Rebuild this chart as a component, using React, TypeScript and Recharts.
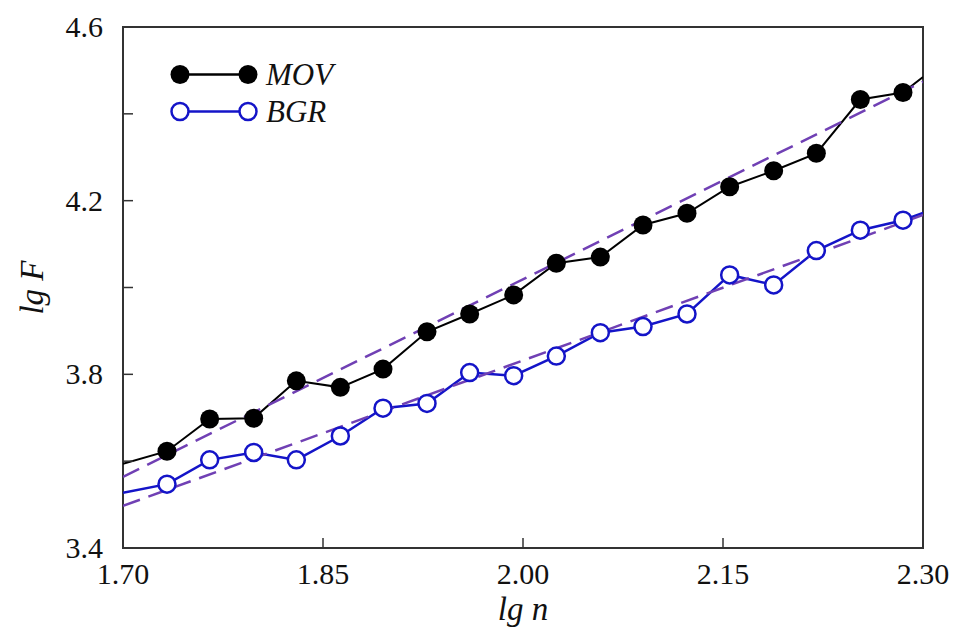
import React from "react";
import { LineChart, Line, XAxis, YAxis, ReferenceArea, Legend } from "recharts";

// lg n positions of the measured points
const lgN = [
  1.733, 1.765, 1.798, 1.83, 1.863, 1.895, 1.928, 1.96, 1.993, 2.025, 2.058, 2.09, 2.123, 2.155,
  2.188, 2.22, 2.253, 2.285,
];
const movF = [
  3.623, 3.697, 3.699, 3.785, 3.77, 3.812, 3.898, 3.939, 3.983, 4.056, 4.07, 4.144, 4.171, 4.232,
  4.269, 4.309, 4.433, 4.449,
];
const bgrF = [
  3.547, 3.603, 3.62, 3.603, 3.658, 3.722, 3.733, 3.804, 3.797, 3.842, 3.896, 3.91, 3.939, 4.029,
  4.006, 4.085, 4.132, 4.155,
];

// where the polylines leave the frame
const edgeN = [1.7, 2.3];
const movEdge = [3.594, 4.485];
const bgrEdge = [3.527, 4.172];

// linear fits (dashed)
const movFit = [3.564, 4.474];
const bgrFit = [3.497, 4.167];

const xTicks = [1.7, 1.85, 2.0, 2.15, 2.3];
const yTicks = [3.4, 3.6, 3.8, 4.0, 4.2, 4.4, 4.6];
const yLabels = [3.4, 3.8, 4.2, 4.6];

const FONT = '"Liberation Serif", "DejaVu Serif", serif';
const AXIS = "#333";
const MOV_COLOR = "#000000";
const BGR_COLOR = "#1414c8";
const FIT_COLOR = "#7040b4";

function buildSeries(values: number[], edge: number[]) {
  return [
    { x: edgeN[0], y: edge[0], edge: true },
    ...lgN.map((x, i) => ({ x, y: values[i], edge: false })),
    { x: edgeN[1], y: edge[1], edge: true },
  ];
}

const movData = buildSeries(movF, movEdge);
const bgrData = buildSeries(bgrF, bgrEdge);
const movFitData = edgeN.map((x, i) => ({ x, y: movFit[i] }));
const bgrFitData = edgeN.map((x, i) => ({ x, y: bgrFit[i] }));

function XTick(props: any) {
  const { x, y, payload } = props;
  return (
    <g>
      <line x1={x} y1={y} x2={x} y2={y - 10} stroke={AXIS} strokeWidth={1.5} />
      <text x={x} y={y + 36} textAnchor="middle" fontFamily={FONT} fontSize={30} fill="#111">
        {Number(payload.value).toFixed(2)}
      </text>
    </g>
  );
}

function YTick(props: any) {
  const { x, y, payload } = props;
  const v = Number(payload.value);
  const showLabel = yLabels.some((l) => Math.abs(l - v) < 1e-6);
  return (
    <g>
      <line x1={x} y1={y} x2={x + 10} y2={y} stroke={AXIS} strokeWidth={1.5} />
      {showLabel && (
        <text x={x - 20} y={y + 10} textAnchor="end" fontFamily={FONT} fontSize={30} fill="#111">
          {v.toFixed(1)}
        </text>
      )}
    </g>
  );
}

function XTitle(props: any) {
  const { viewBox } = props;
  return (
    <text
      x={viewBox.x + viewBox.width / 2}
      y={viewBox.y + 72}
      textAnchor="middle"
      fontFamily={FONT}
      fontStyle="italic"
      fontSize={33}
      fill="#111"
    >
      lg n
    </text>
  );
}

function YTitle(props: any) {
  const { viewBox } = props;
  const cx = viewBox.x + 43;
  const cy = viewBox.y + viewBox.height / 2;
  return (
    <text
      x={cx}
      y={cy}
      transform={`rotate(-90, ${cx}, ${cy})`}
      textAnchor="middle"
      fontFamily={FONT}
      fontStyle="italic"
      fontSize={33}
      fill="#111"
    >
      lg F
    </text>
  );
}

function FilledDot(props: any) {
  const { cx, cy, payload, index } = props;
  if (payload.edge) return <g key={`m-${index}`} />;
  return <circle key={`m-${index}`} cx={cx} cy={cy} r={9.5} fill={MOV_COLOR} />;
}

function OpenDot(props: any) {
  const { cx, cy, payload, index } = props;
  if (payload.edge) return <g key={`b-${index}`} />;
  return (
    <circle key={`b-${index}`} cx={cx} cy={cy} r={8.5} fill="#fff" stroke={BGR_COLOR} strokeWidth={2.5} />
  );
}

const legendItems = [
  { name: "MOV", color: MOV_COLOR, filled: true },
  { name: "BGR", color: BGR_COLOR, filled: false },
];

function LegendBox() {
  return (
    <div>
      {legendItems.map((item) => (
        <div key={item.name} style={{ display: "flex", alignItems: "center", height: 37 }}>
          <svg width={101} height={37}>
            <line x1={15} y1={18.5} x2={83} y2={18.5} stroke={item.color} strokeWidth={2.5} />
            {[15, 83].map((cx) => (
              <circle
                key={cx}
                cx={cx}
                cy={18.5}
                r={item.filled ? 9.5 : 8.5}
                fill={item.filled ? item.color : "#fff"}
                stroke={item.color}
                strokeWidth={item.filled ? 0 : 2.5}
              />
            ))}
          </svg>
          <span style={{ fontFamily: FONT, fontStyle: "italic", fontSize: 31, color: "#111", lineHeight: 1 }}>
            {item.name}
          </span>
        </div>
      ))}
    </div>
  );
}

export default function App() {
  return (
    <div style={{ position: "absolute", left: 0, top: 0, background: "#fff", fontFamily: FONT }}>
      <LineChart width={956} height={630} margin={{ top: 27, right: 33, bottom: 0, left: 0 }}>
        <XAxis
          type="number"
          dataKey="x"
          domain={[1.7, 2.3]}
          ticks={xTicks}
          allowDataOverflow
          height={82}
          axisLine={false}
          tickLine={false}
          tickSize={0}
          tickMargin={0}
          tick={<XTick />}
          label={<XTitle />}
        />
        <YAxis
          type="number"
          dataKey="y"
          domain={[3.4, 4.6]}
          ticks={yTicks}
          allowDataOverflow
          width={123}
          axisLine={false}
          tickLine={false}
          tickSize={0}
          tickMargin={0}
          tick={<YTick />}
          label={<YTitle />}
        />
        <ReferenceArea x1={1.7} x2={2.3} y1={3.4} y2={4.6} fill="none" stroke={AXIS} strokeWidth={2} />
        <Legend
          layout="horizontal"
          verticalAlign="middle"
          align="center"
          wrapperStyle={{ left: 165, top: 55.5, width: "auto" }}
          content={<LegendBox />}
        />
        <Line
          data={movData}
          dataKey="y"
          type="linear"
          stroke={MOV_COLOR}
          strokeWidth={2}
          dot={<FilledDot />}
          activeDot={false}
          isAnimationActive={false}
          legendType="none"
        />
        <Line
          data={bgrData}
          dataKey="y"
          type="linear"
          stroke={BGR_COLOR}
          strokeWidth={2.5}
          dot={<OpenDot />}
          activeDot={false}
          isAnimationActive={false}
          legendType="none"
        />
        <Line
          data={movFitData}
          dataKey="y"
          type="linear"
          stroke={FIT_COLOR}
          strokeWidth={2.5}
          strokeDasharray="18 9"
          dot={false}
          activeDot={false}
          isAnimationActive={false}
          legendType="none"
        />
        <Line
          data={bgrFitData}
          dataKey="y"
          type="linear"
          stroke={FIT_COLOR}
          strokeWidth={2.5}
          strokeDasharray="18 9"
          dot={false}
          activeDot={false}
          isAnimationActive={false}
          legendType="none"
        />
      </LineChart>
    </div>
  );
}
